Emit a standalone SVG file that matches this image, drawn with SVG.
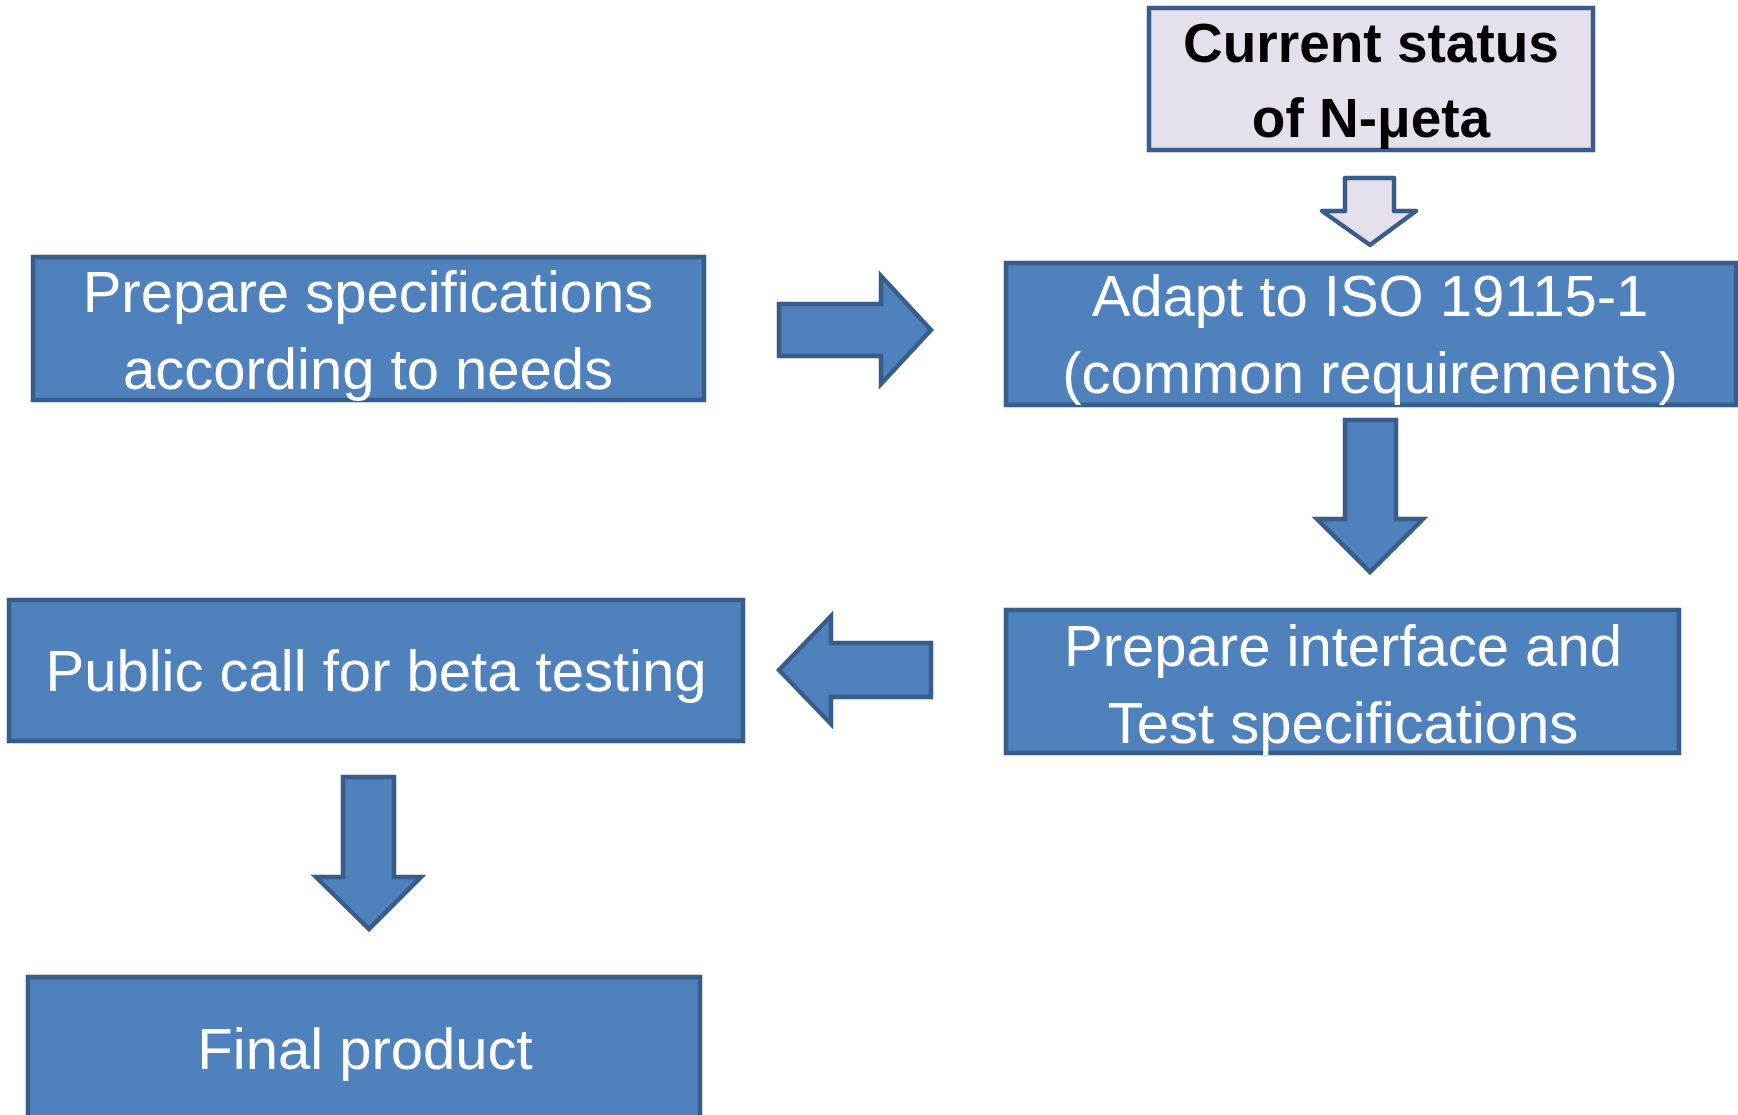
<svg xmlns="http://www.w3.org/2000/svg" width="1738" height="1115" viewBox="0 0 1738 1115">
  <style>
    .box { fill: #4f81bd; stroke: #385d8a; stroke-width: 4.5; }
    .status { fill: #e5e0ec; stroke: #385d8a; stroke-width: 4.5; }
    .arrow { fill: #4f81bd; stroke: #385d8a; stroke-width: 4.5; stroke-linejoin: miter; }
    .hollow { fill: #e5e0ec; stroke: #385d8a; stroke-width: 4.5; stroke-linejoin: round; }
    .lbl { font-family: "Liberation Sans", Arial, sans-serif; font-size: 58px; fill: #ffffff; text-anchor: middle; }
    .title { font-family: "Liberation Sans", Arial, sans-serif; font-size: 55px; font-weight: bold; fill: #000000; text-anchor: middle; }
  </style>
  <rect width="1738" height="1115" fill="#ffffff"/>

  <g id="current-status">
    <rect class="status" x="1149" y="8" width="444" height="142"/>
    <text class="title" x="1371" y="62">Current status</text>
    <text class="title" x="1371" y="137">of N-μeta</text>
  </g>

  <g id="prepare-specs">
    <rect class="box" x="33" y="257" width="671" height="143"/>
    <text class="lbl" x="368" y="312">Prepare specifications</text>
    <text class="lbl" x="368" y="389">according to needs</text>
  </g>

  <g id="adapt-iso">
    <rect class="box" x="1006" y="263" width="730" height="142"/>
    <text class="lbl" x="1370" y="316">Adapt to ISO 19115-1</text>
    <text class="lbl" x="1370" y="393">(common requirements)</text>
  </g>

  <g id="prepare-interface">
    <rect class="box" x="1006" y="610" width="673" height="143"/>
    <text class="lbl" x="1343" y="666">Prepare interface and</text>
    <text class="lbl" x="1343" y="743">Test specifications</text>
  </g>

  <g id="public-call">
    <rect class="box" x="9" y="600" width="734" height="141"/>
    <text class="lbl" x="376" y="691">Public call for beta testing</text>
  </g>

  <g id="final-product">
    <rect class="box" x="28" y="977" width="672" height="160"/>
    <text class="lbl" x="365" y="1069">Final product</text>
  </g>

  <g id="connectors">
    <path class="hollow" d="M1345,178 H1394 V211 H1416 L1370,245 L1322,211 H1345 Z"/>
    <path class="arrow" d="M779,304 H881 V276 L931,330 L881,384 V356 H779 Z"/>
    <path class="arrow" d="M1345,420 H1396 V519 H1423 L1370,572 L1317,519 H1345 Z"/>
    <path class="arrow" d="M931,643 H831 V616 L779,670 L831,724 V697 H931 Z"/>
    <path class="arrow" d="M343,777 H394 V877 H421 L369,929 L316,877 H343 Z"/>
  </g>
</svg>
